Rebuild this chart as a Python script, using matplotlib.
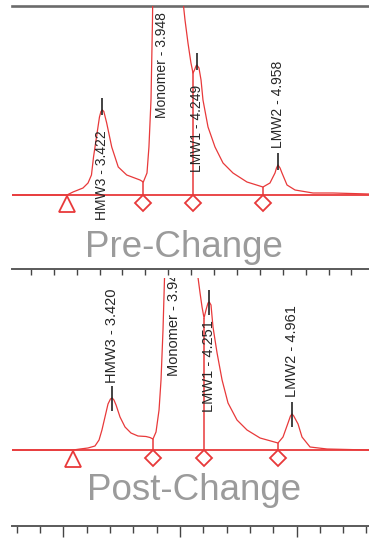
import matplotlib.pyplot as plt
import numpy as np
from matplotlib.ticker import MultipleLocator

plt.rcParams["font.family"] = ["Liberation Sans", "DejaVu Sans"]

# ---- data (time in min, signal in mAU) ----
PRE_TIME = [2.635, 3.115, 3.168, 3.255, 3.299, 3.329, 3.347, 3.373, 3.399, 3.412,
            3.424, 3.437, 3.462, 3.506, 3.563, 3.637, 3.753, 3.782, 3.814, 3.831,
            3.849, 3.862, 3.866, 3.948, 4.128, 4.133, 4.146, 4.172, 4.198, 4.216,
            4.229, 4.242, 4.249, 4.268, 4.286, 4.303, 4.347, 4.408, 4.478, 4.565,
            4.687, 4.827, 4.888, 4.932, 4.945, 4.958, 4.976, 4.993, 5.037, 5.107,
            5.264, 5.438, 5.753]
PRE_SIGNAL = [0, 0, 3, 7, 12, 20, 38, 58, 78, 83.5,
              85, 83.5, 72, 48, 28, 20, 15, 13, 22, 48,
              95, 175, 215, 3000, 210, 189, 175, 152, 132, 122,
              125, 129, 130, 127, 115, 95, 68, 48, 32, 22,
              13, 8, 12, 22, 27, 30, 27, 22, 10, 5,
              2, 2, 1]

POST_TIME = [2.558, 3.082, 3.142, 3.210, 3.270, 3.305, 3.330, 3.356, 3.382, 3.403,
             3.418, 3.433, 3.451, 3.485, 3.528, 3.579, 3.639, 3.708, 3.742, 3.768,
             3.794, 3.820, 3.837, 3.854, 3.867, 3.871, 3.947, 4.150, 4.155, 4.172,
             4.189, 4.206, 4.223, 4.240, 4.251, 4.266, 4.283, 4.318, 4.361, 4.412,
             4.489, 4.575, 4.687, 4.841, 4.884, 4.927, 4.948, 4.961, 4.976, 5.013,
             5.047, 5.116, 5.262, 5.622]
POST_SIGNAL = [0, 0, 1, 2, 4, 10, 20, 33, 46, 51,
               52, 50, 45, 33, 23, 17, 14, 13.5, 12.5, 11,
               18, 40, 70, 120, 172, 200, 3000, 200, 172, 157,
               143, 132, 140, 147, 148, 145, 123, 97, 70, 47,
               30, 20, 12, 7, 13, 27, 34, 36, 34, 26,
               13, 3, 1, 0]

PEAK_NAMES = ["HMW3", "Monomer", "LMW1", "LMW2"]
PRE_PEAK_RT = [3.422, 3.948, 4.249, 4.958]
POST_PEAK_RT = [3.420, 3.947, 4.251, 4.961]

# integration events: start (triangle) and drop-lines (diamonds)
PRE_START = 3.115
PRE_DROPS = [3.779, 4.213, 4.827]
POST_START = 3.082
POST_DROPS = [3.768, 4.206, 4.841]

PANEL_TITLES = ["Pre-Change", "Post-Change"]

# ---- layout / style ----
RED = "#e8393a"
AXIS_GREY = "#5a5a5a"
TITLE_GREY = "#9b9b9b"
PRE_LABEL_Y = [-25, 77, 23, 47]
POST_LABEL_Y = [67, 74, 38, 53]


def draw_panel(ax, time, signal, start, drops, rts, label_y, tick_span, label_size):
    time = np.asarray(time, dtype=float)
    signal = np.asarray(signal, dtype=float)
    ymax = ax.get_ylim()[1]

    ax.axhline(0, color=RED, lw=1.3, zorder=2)
    ax.plot(time, signal, color=RED, lw=0.9, zorder=3)

    drop_top = np.interp(drops, time, signal)
    ax.vlines(drops, 0, drop_top, color=RED, lw=1.1, zorder=3)

    ax.plot([start], [-9], ls="none", marker="^", ms=12, mfc="white",
            mec=RED, mew=1.3, zorder=4)
    ax.plot(drops, np.full(len(drops), -8.0), ls="none", marker="D", ms=7.8,
            mfc="white", mec=RED, mew=1.3, zorder=4)

    for name, rt, ly in zip(PEAK_NAMES, rts, label_y):
        h = np.interp(rt, time, signal)
        if h < ymax:
            ax.vlines(rt, h - tick_span[0], h + tick_span[1], color="#222222",
                      lw=1.2, zorder=5)
        ax.text(rt, ly, f"{name} - {rt:.3f}", rotation=90, ha="center",
                va="bottom", fontsize=label_size, color="#262626", clip_on=True,
                zorder=6)


def main():
    fig = plt.figure(figsize=(3.69, 5.38), dpi=100)
    ax_pre = fig.add_axes([12 / 369, 269 / 538, 357 / 369, 263 / 538])
    ax_post = fig.add_axes([12 / 369, 12 / 538, 357 / 369, 248 / 538])

    ax_pre.set_xlim(PRE_TIME[0], PRE_TIME[-1])
    ax_pre.set_ylim(-74, 189)
    ax_post.set_xlim(POST_TIME[0], POST_TIME[-1])
    ax_post.set_ylim(-76, 172)

    draw_panel(ax_pre, PRE_TIME, PRE_SIGNAL, PRE_START, PRE_DROPS,
               PRE_PEAK_RT, PRE_LABEL_Y, (5, 12), 10)
    draw_panel(ax_post, POST_TIME, POST_SIGNAL, POST_START, POST_DROPS,
               POST_PEAK_RT, POST_LABEL_Y, (13, 12), 10.5)

    ax_pre.text(4.137, -62, PANEL_TITLES[0], ha="center", va="baseline",
                fontsize=26.5, color=TITLE_GREY)
    ax_post.text(4.12, -50, PANEL_TITLES[1], ha="center", va="baseline",
                 fontsize=26.5, color=TITLE_GREY)

    for ax in (ax_pre, ax_post):
        ax.set_yticks([])
        for side in ("left", "right"):
            ax.spines[side].set_visible(False)
        ax.spines["bottom"].set_color(AXIS_GREY)
        ax.spines["bottom"].set_linewidth(1.4)
        ax.patch.set_alpha(0)

    ax_pre.spines["top"].set_color("#6b6b6b")
    ax_pre.spines["top"].set_linewidth(1.9)
    ax_post.spines["top"].set_visible(False)

    ax_pre.xaxis.set_major_locator(MultipleLocator(0.2))
    ax_pre.tick_params(axis="x", direction="out", length=4.5, width=1.0,
                       color="#444444", labelbottom=False)

    ax_post.xaxis.set_major_locator(MultipleLocator(1.0))
    ax_post.xaxis.set_minor_locator(MultipleLocator(0.2))
    ax_post.tick_params(axis="x", which="major", direction="out", length=8,
                        width=1.0, color="#444444", labelbottom=False)
    ax_post.tick_params(axis="x", which="minor", direction="out", length=5,
                        width=1.0, color="#444444")

    fig.savefig("out.png", dpi=100)
    plt.close(fig)


if __name__ == "__main__":
    main()
